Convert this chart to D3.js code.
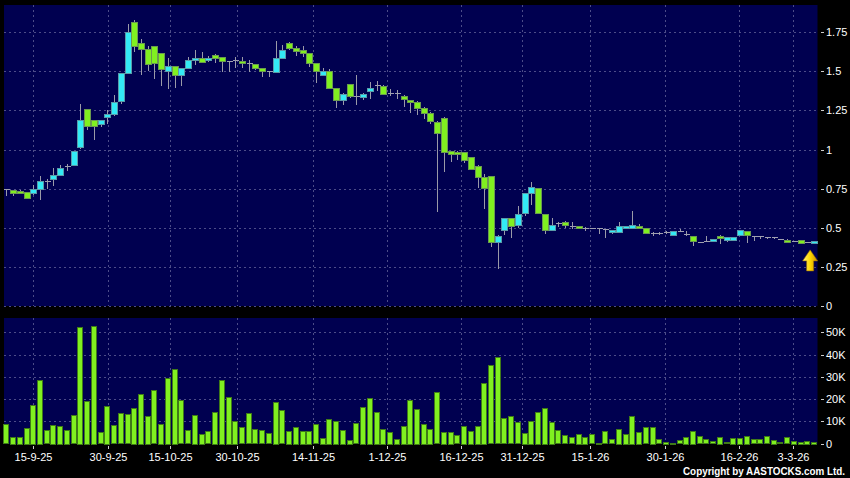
<!DOCTYPE html>
<html><head><meta charset="utf-8">
<script src="https://cdn.jsdelivr.net/npm/d3@7/dist/d3.min.js"></script>
<style>html,body{margin:0;padding:0;background:#000;}svg{display:block;}</style>
</head><body><svg id="c" width="850" height="478"></svg>
<script>
const open  = [0.745,0.739,0.737,0.729,0.722,0.748,0.797,0.812,0.839,0.893,0.901,1.02,1.259,1.186,1.163,1.205,1.227,1.307,1.488,1.818,
1.68,1.644,1.661,1.619,1.504,1.534,1.479,1.523,1.574,1.585,1.574,1.606,1.593,1.57,1.572,1.57,1.553,1.547,1.523,1.5,
1.5,1.587,1.68,1.648,1.64,1.62,1.556,1.479,1.506,1.395,1.318,1.417,1.34,1.34,1.374,1.415,1.408,1.363,1.363,1.344,
1.318,1.306,1.267,1.235,1.176,1.203,0.99,0.984,0.984,0.952,0.895,0.824,0.833,0.407,0.488,0.563,0.516,0.597,0.724,0.756,
0.584,0.484,0.527,0.536,0.51,0.51,0.5,0.495,0.495,0.49,0.468,0.474,0.5,0.5,0.51,0.5,0.468,0.464,0.468,0.451,
0.472,0.457,0.447,0.41,0.415,0.41,0.447,0.419,0.425,0.451,0.479,0.447,0.447,0.443,0.44,0.43,0.421,0.408,0.421,0.408,0.4];
const high  = [0.748,0.742,0.742,0.731,0.771,0.833,0.812,0.882,0.903,0.908,0.993,1.29,1.26,1.19,1.186,1.25,1.35,1.488,1.803,1.83,
1.71,1.665,1.661,1.619,1.585,1.534,1.523,1.59,1.64,1.627,1.6,1.61,1.593,1.57,1.59,1.59,1.574,1.55,1.523,1.5,
1.697,1.67,1.69,1.66,1.665,1.62,1.556,1.52,1.515,1.395,1.36,1.417,1.48,1.36,1.432,1.438,1.41,1.39,1.38,1.35,
1.32,1.31,1.27,1.24,1.184,1.206,0.99,0.99,0.984,0.952,0.9,0.846,0.833,0.452,0.563,0.563,0.637,0.724,0.793,0.756,
0.584,0.56,0.535,0.54,0.535,0.51,0.505,0.5,0.495,0.49,0.483,0.535,0.51,0.607,0.52,0.5,0.475,0.47,0.48,0.48,
0.49,0.478,0.447,0.41,0.447,0.425,0.45,0.44,0.442,0.483,0.479,0.447,0.447,0.443,0.44,0.43,0.43,0.415,0.421,0.41,0.415];
const low   = [0.705,0.705,0.725,0.684,0.707,0.68,0.748,0.765,0.835,0.861,0.901,1.005,1.127,1.063,1.145,1.165,1.215,1.29,1.488,1.627,
1.478,1.506,1.453,1.407,1.39,1.394,1.407,1.52,1.542,1.557,1.56,1.553,1.496,1.496,1.52,1.52,1.496,1.51,1.464,1.464,
1.49,1.58,1.64,1.6,1.59,1.53,1.425,1.47,1.395,1.265,1.286,1.33,1.286,1.32,1.325,1.374,1.357,1.34,1.325,1.271,
1.233,1.218,1.197,1.165,0.601,0.856,0.92,0.93,0.915,0.878,0.756,0.616,0.373,0.233,0.452,0.431,0.495,0.573,0.644,0.597,
0.456,0.48,0.505,0.5,0.49,0.49,0.48,0.49,0.46,0.436,0.46,0.47,0.5,0.49,0.5,0.46,0.447,0.455,0.46,0.45,
0.47,0.447,0.383,0.40,0.41,0.41,0.393,0.41,0.42,0.45,0.404,0.417,0.425,0.43,0.43,0.42,0.405,0.405,0.4,0.405,0.4];
const close = [0.745,0.722,0.727,0.690,0.748,0.797,0.797,0.839,0.882,0.893,0.993,1.19,1.148,1.148,1.186,1.227,1.307,1.488,1.75,1.665,
1.64,1.549,1.549,1.517,1.534,1.479,1.523,1.574,1.587,1.557,1.587,1.587,1.568,1.57,1.572,1.557,1.553,1.523,1.504,1.5,
1.587,1.638,1.648,1.63,1.62,1.558,1.502,1.506,1.395,1.318,1.357,1.34,1.34,1.357,1.395,1.415,1.357,1.363,1.363,1.325,
1.303,1.267,1.233,1.182,1.107,0.984,0.969,0.969,0.935,0.878,0.824,0.756,0.410,0.446,0.563,0.514,0.584,0.724,0.761,0.597,
0.484,0.514,0.527,0.515,0.51,0.5,0.5,0.495,0.49,0.49,0.483,0.511,0.51,0.517,0.5,0.468,0.468,0.464,0.474,0.479,
0.479,0.457,0.415,0.41,0.41,0.425,0.436,0.44,0.442,0.483,0.451,0.447,0.447,0.443,0.44,0.43,0.408,0.415,0.4,0.408,0.415];
const volume = [8.7,3,3,7.2,17.5,28.6,6,8.5,8,6.3,12.7,52.6,19.3,53,5.1,17,8.2,13.6,13.2,16,
22.5,12.4,24,9,29.7,33.6,19.5,6,12.9,4.5,5.5,14.4,28.6,21,10.2,7.3,13.6,6.4,6,4.6,
18.9,15,5.8,7.6,5.7,5.7,8.7,2.7,11.1,10.2,6.1,1.8,9.1,16.6,20.5,14.2,6.7,5.4,2.1,7.9,
19.6,15.6,9,6.7,23,5.2,5.2,3.7,8.1,5.8,7.9,27.3,35.2,38.8,11.4,12.3,9.6,4.9,10.3,14.2,
16.2,9.7,6,3.7,2.8,4.5,3,4.2,0.5,5.5,2,6.7,4.3,12.4,5.4,7.3,7.5,2,0.7,0.4,
1.5,3,5.7,3.3,2,1,3,0.6,2.5,2.5,3.6,2,2,3.3,1.6,0.6,2.8,1.3,0.9,1.2,0.8].map(v => v * 1000);
const tickLabels = ["15-9-25","30-9-25","15-10-25","30-10-25","14-11-25","1-12-25","16-12-25","31-12-25","15-1-26","30-1-26","16-2-26","3-3-26"];
const tickIndex  = [4, 15.1, 24.3, 34.3, 45.5, 56.5, 67.5, 76.6, 86.7, 97.8, 108.9, 116.9];
const priceTicks = [0,0.25,0.5,0.75,1,1.25,1.5,1.75];
const volTicks = [0,10000,20000,30000,40000,50000];

const n = close.length;
const svg = d3.select("#c");
const BG = "#000050", GRID = "#4c4c88";
const UP = "#33eaf5", DOWN = "#80f020";
const L = 4, R = 817.5;
const P = {top:5, bottom:306};
const V = {top:318, bottom:444};

svg.append("rect").attr("width",850).attr("height",478).attr("fill","#000");
svg.append("rect").attr("x",L).attr("y",P.top).attr("width",R-L).attr("height",P.bottom-P.top).attr("fill",BG);
svg.append("rect").attr("x",L).attr("y",V.top).attr("width",R-L).attr("height",V.bottom-V.top).attr("fill",BG);

const x = d3.scaleLinear().domain([-0.5, n-0.5]).range([3, 817.5]);
const y = d3.scaleLinear().domain([0, 1.75]).range([305.7, 32.4]);
const yv = d3.scaleLinear().domain([0, 50000]).range([443.7, 332.3]);

const gridG = svg.append("g").attr("stroke",GRID).attr("stroke-width",1).attr("stroke-dasharray","2,3").attr("shape-rendering","crispEdges");
priceTicks.forEach(t => gridG.append("line").attr("x1",L).attr("x2",R).attr("y1",Math.round(y(t))+0.5).attr("y2",Math.round(y(t))+0.5));
volTicks.slice(1).forEach(t => gridG.append("line").attr("x1",L).attr("x2",R).attr("y1",Math.round(yv(t))+0.5).attr("y2",Math.round(yv(t))+0.5));
tickIndex.forEach(i => {
  const xx = Math.round(x(i))+0.5;
  gridG.append("line").attr("x1",xx).attr("x2",xx).attr("y1",P.top).attr("y2",P.bottom);
  gridG.append("line").attr("x1",xx).attr("x2",xx).attr("y1",V.top).attr("y2",V.bottom);
});

// candles
const cg = svg.append("g").attr("shape-rendering","crispEdges");
d3.range(n).forEach(i => {
  const o=open[i], c=close[i], h=high[i], l=low[i];
  const xc = Math.round(x(i))+0.5;
  cg.append("line").attr("x1",xc).attr("x2",xc).attr("y1",y(h)).attr("y2",y(l)).attr("stroke","#9a9aa8").attr("stroke-width",1);
  const top = y(Math.max(o,c)), bot = y(Math.min(o,c));
  if (Math.abs(bot-top) < 1.2) {
    cg.append("line").attr("x1",xc-3).attr("x2",xc+3).attr("y1",Math.round(top)+0.5).attr("y2",Math.round(top)+0.5).attr("stroke","#a0a0b0");
  } else {
    cg.append("rect").attr("x",xc-3).attr("y",Math.round(top)+0.5).attr("width",6).attr("height",Math.max(1,Math.round(bot-top)))
      .attr("fill", c>o?UP:DOWN).attr("stroke", c>o?"#5a9aa8":"#6a9a50").attr("stroke-width",1);
  }
});

// volume
const vg = svg.append("g").attr("shape-rendering","crispEdges");
volume.forEach((v,i) => {
  const xc = Math.round(x(i));
  vg.append("rect").attr("x",xc-2.5).attr("y",Math.round(yv(v))+0.5).attr("width",5).attr("height",Math.max(0,Math.round(yv(0)-yv(v))-0.5))
    .attr("fill",DOWN).attr("stroke","#3f7a18").attr("stroke-width",1);
});

// axes text
const font = "'Liberation Sans', Arial, sans-serif";
const tg = svg.append("g").attr("fill","#fff").attr("font-family",font).attr("font-size","11px");
priceTicks.forEach(t => {
  svg.append("line").attr("x1",821).attr("x2",824).attr("y1",Math.round(y(t))+0.5).attr("y2",Math.round(y(t))+0.5).attr("stroke","#ccc");
  tg.append("text").attr("x",826).attr("y",y(t)+4).text(t===0?"0":String(t));
});
volTicks.forEach(t => {
  svg.append("line").attr("x1",821).attr("x2",824).attr("y1",Math.round(yv(t))+0.5).attr("y2",Math.round(yv(t))+0.5).attr("stroke","#ccc");
  tg.append("text").attr("x",826).attr("y",yv(t)+4).text(t===0?"0":(t/1000)+"K");
});
tickIndex.forEach((i,k) => {
  const xx = Math.round(x(i))+0.5;
  svg.append("line").attr("x1",xx).attr("x2",xx).attr("y1",446).attr("y2",449).attr("stroke","#ccc");
  tg.append("text").attr("x",xx).attr("y",461).attr("text-anchor","middle").text(tickLabels[k]);
});
svg.append("text").attr("x",845).attr("y",475).attr("text-anchor","end").attr("fill","#fff")
  .attr("font-family",font).attr("font-size","10px").attr("font-weight","bold")
  .attr("textLength",162).attr("lengthAdjust","spacingAndGlyphs")
  .text("Copyright by AASTOCKS.com Ltd.");

// arrow marker at last price
const defs = svg.append("defs");
const gr = defs.append("linearGradient").attr("id","ag").attr("x1","0").attr("x2","1");
gr.append("stop").attr("offset","0").attr("stop-color","#fff27a");
gr.append("stop").attr("offset","0.5").attr("stop-color","#ffd700");
gr.append("stop").attr("offset","1").attr("stop-color","#c89000");
const ax = x(n-1) - 4, ay = y(close[n-1]) + 9;
svg.append("path").attr("d",`M${ax},${ay} L${ax+7.5},${ay+11} L${ax+3.5},${ay+11} L${ax+3.5},${ay+21} L${ax-3.5},${ay+21} L${ax-3.5},${ay+11} L${ax-7.5},${ay+11} Z`)
  .attr("fill","url(#ag)").attr("stroke","#a07000").attr("stroke-width",0.6);
</script></body></html>
